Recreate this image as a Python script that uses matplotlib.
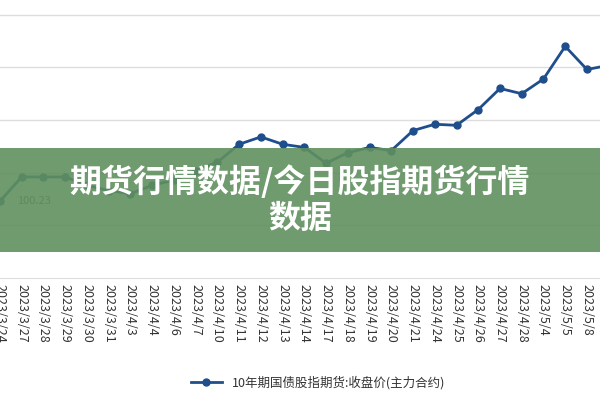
import matplotlib.pyplot as plt
from matplotlib.patches import Rectangle

plt.rcParams['font.family'] = ['Noto Sans CJK SC', 'DejaVu Sans']

dates = ["2023/3/24", "2023/3/27", "2023/3/28", "2023/3/29", "2023/3/30", "2023/3/31",
         "2023/4/3", "2023/4/4", "2023/4/6", "2023/4/7", "2023/4/10", "2023/4/11",
         "2023/4/12", "2023/4/13", "2023/4/14", "2023/4/17", "2023/4/18", "2023/4/19",
         "2023/4/20", "2023/4/21", "2023/4/24", "2023/4/25", "2023/4/26", "2023/4/27",
         "2023/4/28", "2023/5/4", "2023/5/5", "2023/5/8"]
prices = [100.23, 100.46, 100.46, 100.46, 100.38, 100.33, 100.30, 100.38, 100.43, 100.52,
          100.60, 100.77, 100.84, 100.77, 100.74, 100.59, 100.69, 100.74, 100.71, 100.90,
          100.96, 100.95, 101.10, 101.30, 101.25, 101.39, 101.70, 101.48, 101.52, 101.55]
series_name = "10年期国债股指期货:收盘价(主力合约)"
title = "期货行情数据/今日股指期货行情\n数据"

fig = plt.figure(figsize=(6, 4), dpi=100)
ax = fig.add_axes([0, 0.305, 1, 0.695])
x = list(range(len(prices)))
ax.plot(x, prices, color="#1f4e8c", linewidth=2, marker="o", markersize=5, label=series_name)
ax.annotate("100.23", (x[0], prices[0]), xytext=(12, 0), textcoords="offset points",
            va="center", fontsize=8, color="#555555")

ax.set_xlim(0, 27.6)
ax.set_ylim(99.5, 102.14)
ax.set_yticks([100.0, 100.5, 101.0, 101.5, 102.0])
ax.yaxis.grid(True, color="#dddddd", linewidth=1)
ax.set_axisbelow(True)
ax.tick_params(axis="y", left=False, labelleft=False)
ax.set_xticks(range(len(dates)))
ax.set_xticklabels(dates, rotation=-90, fontsize=9, color="#333333")
ax.tick_params(axis="x", length=0, pad=4)
for side in ["top", "left", "right"]:
    ax.spines[side].set_visible(False)
ax.spines["bottom"].set_color("#dddddd")

fig.legend(loc="center", bbox_to_anchor=(0.53, 0.043), frameon=False, fontsize=9,
           handlelength=2.5, labelcolor="#333333")

fig.patches.append(Rectangle((0, 0.37), 1, 0.26, transform=fig.transFigure,
                             facecolor="#5f905f", alpha=0.9, zorder=5))
fig.text(0.5, 0.5, title, ha="center", va="center", fontsize=23, fontweight="bold",
         color="white", linespacing=1.15, zorder=6)

fig.savefig("out.png", dpi=100)
